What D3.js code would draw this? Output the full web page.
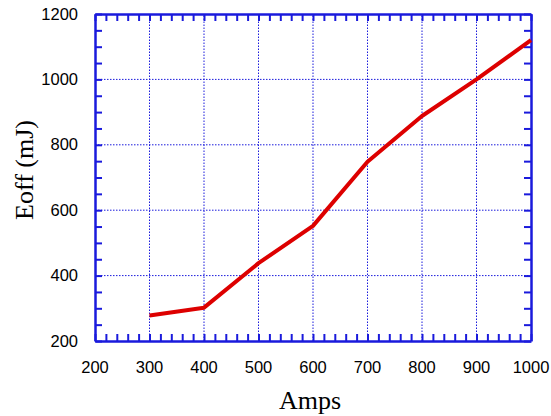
<!DOCTYPE html>
<html>
<head>
<meta charset="utf-8">
<script src="https://cdn.jsdelivr.net/npm/d3@7"></script>
<style>
  body { margin: 0; background: #fff; }
</style>
</head>
<body>
<div id="chart"></div>
<script>
// data
const amps = [300, 400, 500, 600, 700, 800, 900, 1000];
const eoff = [278, 302, 438, 552, 748, 888, 1000, 1120];
const xTicks = [200, 300, 400, 500, 600, 700, 800, 900, 1000];
const yTicks = [200, 400, 600, 800, 1000, 1200];

const width = 551, height = 416;
const margin = { left: 95, right: 20, top: 14, bottom: 75 };
const axisColor = "#1a1adc";

const svg = d3.select("#chart").append("svg")
  .attr("width", width)
  .attr("height", height);

const x = d3.scaleLinear().domain([200, 1000]).range([margin.left, width - margin.right]);
const y = d3.scaleLinear().domain([200, 1200]).range([height - margin.bottom, margin.top]);

// grid (dotted, major only)
svg.append("g")
  .selectAll("line")
  .data(xTicks.slice(1, -1))
  .join("line")
  .attr("x1", d => x(d)).attr("x2", d => x(d))
  .attr("y1", y(200)).attr("y2", y(1200))
  .attr("stroke", axisColor).attr("stroke-width", 1)
  .attr("stroke-dasharray", "1.5,1.5");

svg.append("g")
  .selectAll("line")
  .data(yTicks.slice(1, -1))
  .join("line")
  .attr("y1", d => y(d)).attr("y2", d => y(d))
  .attr("x1", x(200)).attr("x2", x(1000))
  .attr("stroke", axisColor).attr("stroke-width", 1)
  .attr("stroke-dasharray", "1.5,1.5");

// inward ticks on all four sides
const tickLen = 7;
const xMinor = d3.range(200, 1001, 20);
const yMinor = d3.range(200, 1201, 50);

const axisBottom = d3.axisBottom(x).tickValues(xMinor).tickSizeInner(-tickLen).tickSizeOuter(0).tickFormat("");
const axisTop = d3.axisTop(x).tickValues(xMinor).tickSizeInner(-tickLen).tickSizeOuter(0).tickFormat("");
const axisLeft = d3.axisLeft(y).tickValues(yMinor).tickSizeInner(-tickLen).tickSizeOuter(0).tickFormat("");
const axisRight = d3.axisRight(y).tickValues(yMinor).tickSizeInner(-tickLen).tickSizeOuter(0).tickFormat("");

svg.append("g").attr("transform", `translate(0,${y(200)})`).call(axisBottom);
svg.append("g").attr("transform", `translate(0,${y(1200)})`).call(axisTop);
svg.append("g").attr("transform", `translate(${x(200)},0)`).call(axisLeft);
svg.append("g").attr("transform", `translate(${x(1000)},0)`).call(axisRight);

svg.selectAll(".tick line").attr("stroke", axisColor).attr("stroke-width", 2);
svg.selectAll(".domain").attr("stroke", axisColor).attr("stroke-width", 2.5);

// tick labels
svg.append("g")
  .selectAll("text")
  .data(xTicks)
  .join("text")
  .attr("x", d => x(d))
  .attr("y", 373)
  .attr("text-anchor", "middle")
  .attr("font-family", "Liberation Sans, Arial, sans-serif")
  .attr("font-size", 16.5)
  .attr("fill", "#000")
  .text(d => d);

svg.append("g")
  .selectAll("text")
  .data(yTicks)
  .join("text")
  .attr("x", x(200) - 17)
  .attr("y", d => y(d) + 5.5)
  .attr("text-anchor", "end")
  .attr("font-family", "Liberation Sans, Arial, sans-serif")
  .attr("font-size", 16.5)
  .attr("fill", "#000")
  .text(d => d);

// axis titles
svg.append("text")
  .attr("x", 310)
  .attr("y", 409)
  .attr("text-anchor", "middle")
  .attr("font-family", "Liberation Serif, Times New Roman, serif")
  .attr("font-size", 26)
  .text("Amps");

svg.append("text")
  .attr("transform", "translate(33,170) rotate(-90)")
  .attr("text-anchor", "middle")
  .attr("font-family", "Liberation Serif, Times New Roman, serif")
  .attr("font-size", 26)
  .text("Eoff (mJ)");

// line
const line = d3.line()
  .x((d, i) => x(amps[i]))
  .y(d => y(d));

svg.append("path")
  .datum(eoff)
  .attr("d", line)
  .attr("fill", "none")
  .attr("stroke", "#dd0000")
  .attr("stroke-width", 4)
  .attr("stroke-linejoin", "round");
</script>
</body>
</html>
